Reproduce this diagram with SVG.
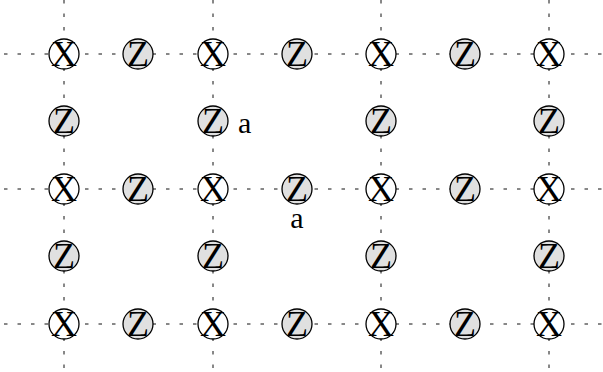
<svg xmlns="http://www.w3.org/2000/svg" width="603" height="372" viewBox="0 0 603 372">
<style>
.ln{stroke:#111;stroke-width:1;stroke-dasharray:3.5 10;fill:none}
.xc{fill:#fff;stroke:#000;stroke-width:1.3}
.zc{fill:#e0e0e0;stroke:#000;stroke-width:1.3}
.t{font-family:"Liberation Serif",serif;font-size:36px;text-anchor:middle;fill:#000}
.a{font-family:"Liberation Serif",serif;font-size:30px;fill:#000}
</style>
<rect width="603" height="372" fill="#fff"/>
<g id="connectors">
<line class="ln" x1="4" y1="54" x2="603" y2="54"/>
<line class="ln" x1="4" y1="189" x2="603" y2="189"/>
<line class="ln" x1="4" y1="324" x2="603" y2="324"/>
<line class="ln" x1="64" y1="0" x2="64" y2="372"/>
<line class="ln" x1="213" y1="0" x2="213" y2="372"/>
<line class="ln" x1="381" y1="0" x2="381" y2="372"/>
<line class="ln" x1="549" y1="0" x2="549" y2="372"/>
</g>
<defs>
<g id="X"><circle class="xc" r="15"/><text class="t" y="12">X</text></g>
<g id="Z"><circle class="zc" r="15"/><text class="t" y="12">Z</text></g>
</defs>
<g id="n1"><use href="#X" x="64" y="54"/></g>
<g id="n2"><use href="#Z" x="138" y="54"/></g>
<g id="n3"><use href="#X" x="213" y="54"/></g>
<g id="n4"><use href="#Z" x="297" y="54"/></g>
<g id="n5"><use href="#X" x="381" y="54"/></g>
<g id="n6"><use href="#Z" x="465" y="54"/></g>
<g id="n7"><use href="#X" x="549" y="54"/></g>
<g id="n8"><use href="#Z" x="64" y="121"/></g>
<g id="n9"><use href="#Z" x="213" y="121"/><text class="a" x="238" y="133">a</text></g>
<g id="n10"><use href="#Z" x="381" y="121"/></g>
<g id="n11"><use href="#Z" x="549" y="121"/></g>
<g id="n12"><use href="#X" x="64" y="189"/></g>
<g id="n13"><use href="#Z" x="138" y="189"/></g>
<g id="n14"><use href="#X" x="213" y="189"/></g>
<g id="n15"><use href="#Z" x="297" y="189"/><text class="a" x="297" y="228" text-anchor="middle">a</text></g>
<g id="n16"><use href="#X" x="381" y="189"/></g>
<g id="n17"><use href="#Z" x="465" y="189"/></g>
<g id="n18"><use href="#X" x="549" y="189"/></g>
<g id="n19"><use href="#Z" x="64" y="256"/></g>
<g id="n20"><use href="#Z" x="213" y="256"/></g>
<g id="n21"><use href="#Z" x="381" y="256"/></g>
<g id="n22"><use href="#Z" x="549" y="256"/></g>
<g id="n23"><use href="#X" x="64" y="324"/></g>
<g id="n24"><use href="#Z" x="138" y="324"/></g>
<g id="n25"><use href="#X" x="213" y="324"/></g>
<g id="n26"><use href="#Z" x="297" y="324"/></g>
<g id="n27"><use href="#X" x="381" y="324"/></g>
<g id="n28"><use href="#Z" x="465" y="324"/></g>
<g id="n29"><use href="#X" x="549" y="324"/></g>
</svg>
